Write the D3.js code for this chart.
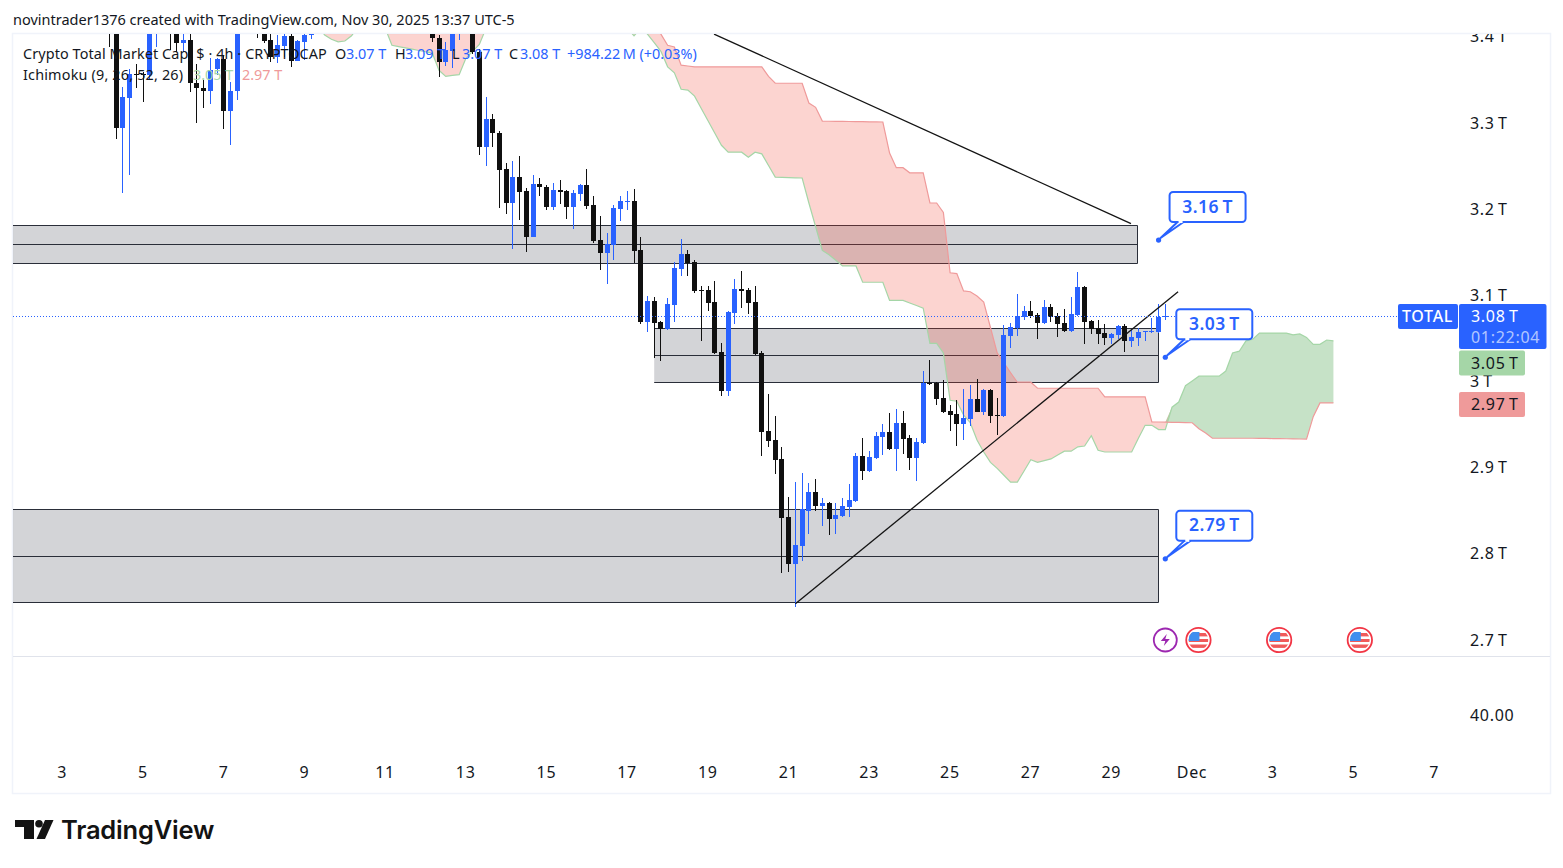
<!DOCTYPE html>
<html><head><meta charset="utf-8">
<script src="https://cdn.jsdelivr.net/npm/d3@7/dist/d3.min.js"></script>
<style>html,body{margin:0;padding:0;background:#fff;overflow:hidden}svg{display:block}text{font-family:"Noto Sans",sans-serif}</style>
</head><body><svg id="c" width="1563" height="868"></svg>
<script>
// ---------- DATA: 4h candles, first bar is Nov 4 2025 04:00 (prices in $ trillions); null = bar above the visible range
const opens=[3.44,3.43,3.293,3.328,3.356,3.356,3.355,3.42,null,3.44,
3.43,3.392,3.395,3.345,3.340,3.336,3.361,3.373,3.313,3.336,
null,null,3.44,3.42,3.395,3.375,3.388,3.400,3.371,3.393,3.401,
null,null,null,null,null,null,null,null,null,null,null,null,null,null,null,null,null,
3.42,3.397,3.370,3.382,3.42,null,3.43,3.381,3.271,3.303,
3.287,3.245,3.206,3.236,3.220,3.167,3.228,3.225,3.201,3.221,
3.220,3.201,3.216,3.227,3.204,3.163,3.148,3.157,3.199,3.207,
3.208,3.151,3.068,3.092,3.068,3.060,3.088,3.129,3.147,3.137,
3.105,3.105,3.091,3.033,2.988,3.078,3.106,3.105,3.091,3.032,
2.941,2.931,2.909,2.842,2.787,2.808,2.849,2.871,2.854,2.858,
2.839,2.843,2.853,2.860,2.912,2.895,2.910,2.935,2.940,2.921,
2.951,2.933,2.910,2.927,2.997,2.997,2.980,2.965,2.961,2.949,
2.955,2.978,2.964,2.989,2.960,2.959,3.052,3.061,3.074,3.081,
3.076,3.067,3.085,3.075,3.067,3.057,3.076,3.109,3.069,3.061,
3.055,3.049,3.053,3.063,3.046,3.049,3.056,3.056,3.056,3.074];
const highs=[3.45,3.44,3.341,3.362,3.367,3.358,3.43,3.45,null,3.45,
3.44,3.41,3.41,3.367,3.349,3.374,3.374,3.378,3.346,3.43,
null,null,3.45,3.43,3.41,3.401,3.41,3.41,3.395,3.41,3.42,
null,null,null,null,null,null,null,null,null,null,null,null,null,null,null,null,null,
3.43,3.401,3.393,3.43,3.45,null,3.44,3.385,3.329,3.309,
3.289,3.252,3.255,3.261,3.223,3.238,3.235,3.227,3.229,3.233,
3.221,3.221,3.228,3.245,3.214,3.191,3.171,3.204,3.214,3.220,
3.222,3.167,3.098,3.097,3.069,3.096,3.137,3.164,3.151,3.140,
3.110,3.110,3.115,3.043,3.081,3.118,3.127,3.107,3.110,3.034,
2.984,2.959,2.923,2.865,2.882,2.893,2.881,2.886,2.864,2.859,
2.858,2.864,2.880,2.916,2.933,2.918,2.940,2.949,2.962,2.967,
2.965,2.937,2.933,3.011,3.024,2.998,3.001,2.972,2.977,2.990,
2.995,3.002,2.990,2.990,2.980,3.064,3.067,3.100,3.086,3.092,
3.078,3.093,3.089,3.078,3.083,3.097,3.126,3.110,3.070,3.070,
3.066,3.055,3.064,3.066,3.059,3.061,3.058,3.072,3.089,3.089];
const lows=[3.387,3.280,3.218,3.238,3.339,3.323,3.350,3.387,null,3.384,
3.381,3.381,3.335,3.299,3.316,3.321,3.355,3.292,3.273,3.326,
null,null,3.397,3.392,3.370,3.368,3.375,3.364,3.371,3.372,3.396,
null,null,null,null,null,null,null,null,null,null,null,null,null,null,null,null,null,
3.393,3.352,3.365,3.363,3.395,null,3.379,3.262,3.249,3.271,
3.200,3.193,3.153,3.186,3.149,3.166,3.214,3.198,3.198,3.205,
3.187,3.176,3.208,3.199,3.160,3.128,3.112,3.140,3.185,3.198,
3.136,3.066,3.056,3.026,3.023,3.059,3.068,3.121,3.121,3.102,
3.046,3.081,3.031,2.982,2.982,3.066,3.084,3.077,3.030,2.912,
2.923,2.891,2.777,2.778,2.737,2.791,2.822,2.848,2.831,2.821,
2.822,2.842,2.842,2.859,2.885,2.894,2.909,2.914,2.919,2.895,
2.915,2.896,2.883,2.926,2.995,2.972,2.962,2.941,2.924,2.931,
2.947,2.963,2.960,2.951,2.937,2.958,3.038,3.052,3.070,3.072,
3.048,3.066,3.068,3.050,3.056,3.056,3.075,3.042,3.054,3.042,
3.041,3.042,3.048,3.033,3.039,3.040,3.046,3.055,3.055,3.070];
const closes=[3.42,3.293,3.329,3.356,3.354,3.355,3.42,3.44,null,3.42,
3.392,3.395,3.345,3.339,3.336,3.360,3.373,3.313,3.336,3.42,
null,null,3.42,3.394,3.375,3.389,3.400,3.371,3.394,3.401,3.41,
null,null,null,null,null,null,null,null,null,null,null,null,null,null,null,null,null,
3.397,3.370,3.384,3.42,3.44,null,3.381,3.271,3.303,3.287,
3.244,3.206,3.236,3.219,3.167,3.228,3.224,3.201,3.221,3.219,
3.201,3.218,3.227,3.203,3.162,3.148,3.158,3.200,3.208,3.208,
3.150,3.068,3.092,3.067,3.060,3.089,3.131,3.147,3.136,3.104,
3.104,3.090,3.032,2.988,3.079,3.106,3.104,3.090,3.031,2.940,
2.930,2.908,2.840,2.787,2.809,2.851,2.871,2.854,2.858,2.839,
2.844,2.854,2.861,2.912,2.895,2.911,2.936,2.940,2.921,2.951,
2.932,2.910,2.929,2.997,2.996,2.978,2.963,2.960,2.949,2.956,
2.978,2.964,2.989,2.959,2.959,3.053,3.062,3.075,3.081,3.075,
3.067,3.085,3.074,3.066,3.057,3.077,3.109,3.068,3.060,3.054,
3.049,3.054,3.063,3.046,3.050,3.056,3.057,3.057,3.074,3.075];

const spanABars=[30,31,32,33,34,35,36,37,39,40,41,43,47,48,49,51,52,54,55,60,75,76,77,78,79,81,82,83,84,85,86,90,91,93,94,95,96,98,102,103,105,106,108,110,111,114,115,117,120,121,122,123,124,125,126,127,128,129,130,131,133,134,136,137,139,141,142,143,144,145,146,147,151,152,153,154,155,156,157,158,159,161,164,165,166,167,168,169,170,174,175,176,177,178,179,180,181];
const spanAValues=[3.411,3.401,3.396,3.393,3.394,3.400,3.411,3.43,3.43,3.409,3.389,3.386,3.380,3.360,3.353,3.355,3.374,3.390,3.409,3.43,3.43,3.409,3.400,3.409,3.402,3.382,3.364,3.357,3.338,3.337,3.330,3.273,3.265,3.265,3.259,3.265,3.263,3.236,3.235,3.206,3.151,3.146,3.133,3.133,3.114,3.114,3.093,3.093,3.084,3.043,3.043,3.032,2.977,2.976,2.960,2.951,2.931,2.917,2.905,2.898,2.882,2.882,2.908,2.905,2.909,2.918,2.918,2.923,2.924,2.936,2.919,2.917,2.917,2.933,2.948,2.948,2.943,2.943,2.969,2.975,2.994,3.005,3.005,3.011,3.032,3.034,3.046,3.048,3.055,3.055,3.053,3.054,3.050,3.042,3.042,3.047,3.046];
const spanBBars=[30,79,81,82,83,84,86,96,97,98,102,103,104,105,114,115,116,117,118,120,121,122,123,124,125,126,127,128,129,131,133,134,136,137,146,147,153,154,160,161,162,163,169,177,178,179,181];
const spanBValues=[3.45,3.44,3.402,3.389,3.387,3.366,3.364,3.364,3.353,3.345,3.345,3.322,3.317,3.301,3.300,3.264,3.247,3.247,3.241,3.241,3.206,3.206,3.195,3.125,3.124,3.104,3.103,3.098,3.091,3.032,3.009,2.998,2.998,2.991,2.991,2.981,2.981,2.952,2.951,2.944,2.939,2.933,2.933,2.932,2.958,2.974,2.974];

const zoneBars=[[-60,152],[80,155],[-60,155]];
const zoneTop=[3.180,3.061,2.851], zoneMid=[3.158,3.030,2.796], zoneBottom=[3.136,2.998,2.743];
const trendBars=[[88.9,150.9],[101,157.9]], trendPrices=[[3.402,3.182],[2.741,3.103]];
const calloutBars=[155,156,156], calloutPrices=[3.163,3.027,2.793], calloutLabels=["3.16\u2009T","3.03\u2009T","2.79\u2009T"];
const priceTicks=[3.4,3.3,3.2,3.1,3.0,2.9,2.8,2.7], priceTickLabels=["3.4\u2009T","3.3\u2009T","3.2\u2009T","3.1\u2009T","3\u2009T","2.9\u2009T","2.8\u2009T","2.7\u2009T"];
const timeTickDays=[3,5,7,9,11,13,15,17,19,21,23,25,27,29,31,33,35,37], timeTickLabels=["3","5","7","9","11","13","15","17","19","21","23","25","27","29","Dec","3","5","7"];
const lastPrice=3.075, eventBars=[161,173,185], speechBar=156;

// ---------- SCALES
const svg=d3.select("#c");
const t0=Date.UTC(2025,10,3);
const day=864e5;
const x=d3.scaleUtc().domain([new Date(t0),new Date(t0+34*day)]).range([62.4,62.4+34*40.35]);
const y=d3.scaleLinear().domain([2.7,3.3]).range([639,122]);
const barDate=i=>new Date(Date.UTC(2025,10,4,8)+i*4*36e5);
const bx=i=>x(barDate(i));
const BLUE="#2962FF",INK="#131722",BLACK="#101010";
const AXF=16, AXLS=0.7;

const defs=svg.append("defs");
defs.append("clipPath").attr("id","pane").append("rect").attr("x",13).attr("y",34).attr("width",1537).attr("height",622);
defs.append("clipPath").attr("id","axisclip").append("rect").attr("x",1455).attr("y",34).attr("width",95).attr("height",622);

// frame
svg.append("rect").attr("x",12.5).attr("y",33.5).attr("width",1538).attr("height",760).attr("fill","none").attr("stroke","#F0F3FA").attr("stroke-width",1.5);
svg.append("line").attr("x1",13).attr("x2",1550).attr("y1",656.5).attr("y2",656.5).attr("stroke","#E0E3EB");

svg.append("text").attr("x",13).attr("y",24.5).attr("font-size",14.5).attr("fill",INK).text("novintrader1376 created with TradingView.com, Nov 30, 2025 13:37 UTC-5");

const pane=svg.append("g").attr("clip-path","url(#pane)");

// zones
zoneTop.forEach((p,i)=>{
  const x0=bx(zoneBars[i][0]),x1=Math.round(bx(zoneBars[i][1]))-.5;
  const yt=Math.round(y(p))+.5,yb=Math.round(y(zoneBottom[i]))+.5,ym=Math.round(y(zoneMid[i]))+.5;
  pane.append("rect").attr("x",x0).attr("y",yt).attr("width",x1-x0).attr("height",yb-yt).attr("fill","rgba(120,123,134,.33)");
  pane.append("path").attr("d",`M${x0},${yt}H${x1}V${yb}H${x0}`).attr("fill","none").attr("stroke","#2A2E39").attr("stroke-width",1);
  pane.append("line").attr("x1",x0).attr("x2",x1).attr("y1",ym).attr("y2",ym).attr("stroke","#2A2E39").attr("stroke-width",1);
});

// ichimoku cloud
const spanA=d3.scaleLinear().domain(spanABars).range(spanAValues);
const spanB=d3.scaleLinear().domain(spanBBars).range(spanBValues);
const cloudBars=d3.range(30,181.01,1);
const cx=d=>bx(d);
pane.append("path").datum(cloudBars).attr("fill","rgba(244,67,54,.23)")
  .attr("d",d3.area().x(cx).y0(d=>y(spanA(d))).y1(d=>y(Math.max(spanA(d),spanB(d)))));
pane.append("path").datum(cloudBars).attr("fill","rgba(67,160,71,.3)")
  .attr("d",d3.area().x(cx).y0(d=>y(spanB(d))).y1(d=>y(Math.max(spanA(d),spanB(d)))));
pane.append("path").datum(cloudBars).attr("fill","none").attr("stroke","#A5D6A7").attr("stroke-width",1.2)
  .attr("d",d3.line().x(cx).y(d=>y(spanA(d))));
pane.append("path").datum(cloudBars).attr("fill","none").attr("stroke","#EF9A9A").attr("stroke-width",1.2)
  .attr("d",d3.line().x(cx).y(d=>y(spanB(d))));

// last price line
svg.append("line").attr("x1",13).attr("x2",1398).attr("y1",Math.round(y(lastPrice))+.5).attr("y2",Math.round(y(lastPrice))+.5)
  .attr("stroke",BLUE).attr("stroke-width",1).attr("stroke-dasharray","1 2");

// candles
const bars=opens.map((o,k)=>({i:k-1,o,h:highs[k],l:lows[k],c:closes[k]})).filter(d=>d.o!==null);
const cg=pane.append("g").selectAll("g").data(bars).join("g")
  .attr("fill",d=>d.c>=d.o?BLUE:BLACK);
cg.append("rect").attr("x",d=>Math.floor(bx(d.i))).attr("width",1)
  .attr("y",d=>Math.round(y(d.h))).attr("height",d=>Math.max(1,Math.round(y(d.l))-Math.round(y(d.h))));
cg.append("rect").attr("x",d=>Math.floor(bx(d.i))-2).attr("width",5)
  .attr("y",d=>Math.round(y(Math.max(d.o,d.c)))).attr("height",d=>Math.max(1,Math.round(y(Math.min(d.o,d.c)))-Math.round(y(Math.max(d.o,d.c)))));

// trend lines
trendBars.forEach((b,i)=>{
  pane.append("line").attr("x1",bx(b[0])).attr("x2",bx(b[1])).attr("y1",y(trendPrices[i][0])).attr("y2",y(trendPrices[i][1]))
    .attr("stroke","#131313").attr("stroke-width",1.3);
});

// callouts
calloutPrices.forEach((p,i)=>{
  const px=bx(calloutBars[i]),py=y(p),dx=px+11,dy=py-48;
  const g=svg.append("g");
  g.append("path").attr("d",`M${px+2},${py-2}L${dx+8},${dy+30}H${dx+14}Z`).attr("fill","#fff").attr("stroke",BLUE).attr("stroke-width",2).attr("stroke-linejoin","round");
  g.append("rect").attr("x",dx).attr("y",dy).attr("width",76).attr("height",30).attr("rx",3.5).attr("fill","#fff").attr("stroke",BLUE).attr("stroke-width",2);
  g.append("rect").attr("x",dx+9).attr("y",dy+28).attr("width",4).attr("height",3).attr("fill","#fff");
  g.append("circle").attr("cx",px).attr("cy",py).attr("r",2.6).attr("fill",BLUE);
  g.append("text").attr("x",dx+38).attr("y",dy+20.5).attr("text-anchor","middle").attr("font-size",17.5).attr("font-weight",600).attr("letter-spacing",0.5).attr("fill",BLUE).text(calloutLabels[i]);
});

// legend
const lg=svg.append("g").attr("font-size",14.4);
const tx=(xx,yy,s,f,ls)=>lg.append("text").attr("x",xx).attr("y",yy).attr("fill",f).attr("letter-spacing",ls||0).text(s);
tx(23,59,"Crypto Total Market Cap, $ · 4h · CRYPTOCAP",INK,0.1);
tx(335,59,"O",INK);tx(346,59,"3.07 T",BLUE);
tx(395,59,"H",INK);tx(405,59,"3.09 T",BLUE);
tx(452,59,"L",INK);tx(462,59,"3.07 T",BLUE);
tx(509,59,"C",INK);tx(520,59,"3.08 T",BLUE);
tx(567,59,"+984.22\u2009M (+0.03%)",BLUE);
tx(23,80,"Ichimoku (9, 26, 52, 26)",INK,0.18);
tx(193,80,"3.05 T","#A5D6A7");tx(242,80,"2.97 T","#EF9A9A");

// price axis
const yAxis=d3.axisRight(y).tickValues(priceTicks).tickSize(0).tickPadding(0).tickFormat((d,i)=>priceTickLabels[i]);
const ya=svg.append("g").attr("clip-path","url(#axisclip)").append("g").attr("transform","translate(1470,1)").call(yAxis);
ya.select(".domain").remove();
ya.selectAll("text").attr("font-size",AXF).attr("letter-spacing",AXLS).attr("fill",INK).style("font-family",'"Noto Sans",sans-serif');
svg.append("text").attr("x",1470).attr("y",720.5).attr("font-size",AXF).attr("letter-spacing",AXLS).attr("fill",INK).text("40.00");

// time axis
const xAxis=d3.axisBottom(x).tickValues(timeTickDays.map(d=>new Date(t0+(d-3)*day))).tickSize(0).tickPadding(0).tickFormat((d,i)=>timeTickLabels[i]);
const xa=svg.append("g").attr("transform","translate(-0.7,767)").call(xAxis);
xa.select(".domain").remove();
xa.selectAll("text").attr("font-size",AXF).attr("letter-spacing",AXLS).attr("fill",INK).style("font-family",'"Noto Sans",sans-serif');

// price tags
const yL=Math.round(y(lastPrice));
svg.append("rect").attr("x",1398).attr("y",yL-12).attr("width",60).attr("height",25).attr("rx",2).attr("fill",BLUE);
svg.append("text").attr("x",1427.5).attr("y",yL+6).attr("text-anchor","middle").attr("font-size",AXF).attr("letter-spacing",AXLS).attr("font-weight",500).attr("fill","#fff").text("TOTAL");
svg.append("rect").attr("x",1459).attr("y",yL-12).attr("width",87.5).attr("height",45).attr("rx",2).attr("fill",BLUE);
svg.append("text").attr("x",1471).attr("y",yL+6).attr("font-size",AXF).attr("letter-spacing",AXLS).attr("fill","#fff").text("3.08\u2009T");
svg.append("text").attr("x",1471).attr("y",yL+27).attr("font-size",AXF).attr("letter-spacing",AXLS).attr("fill","rgba(255,255,255,.65)").text("01:22:04");
[["#A5D6A7","3.05\u2009T",363],["#EF9A9A","2.97\u2009T",404.5]].forEach(r=>{
  svg.append("rect").attr("x",1459).attr("y",r[2]-12.5).attr("width",66).attr("height",25).attr("rx",2).attr("fill",r[0]);
  svg.append("text").attr("x",1471).attr("y",r[2]+5.5).attr("font-size",AXF).attr("letter-spacing",AXLS).attr("fill",INK).text(r[1]);
});

// event icons
const ev=svg.append("g");
const sp=ev.append("g").attr("transform",`translate(${bx(speechBar)},640)`);
sp.append("circle").attr("r",11.5).attr("fill","#fff").attr("stroke","#9C27B0").attr("stroke-width",1.8);
sp.append("path").attr("d","M1.5,-6L-4.5,1H0L-1.5,6L4.5,-1H0Z").attr("fill","#9C27B0");
eventBars.forEach(b=>{
  const g=ev.append("g").attr("transform",`translate(${bx(b)-0.5},640)`);
  g.append("circle").attr("r",12.2).attr("fill","#fff").attr("stroke","#F23645").attr("stroke-width",1.8);
  const cid="fl"+b;
  svg.select("defs").append("clipPath").attr("id",cid).append("circle").attr("r",10);
  const f=g.append("g").attr("clip-path",`url(#${cid})`);
  f.append("rect").attr("x",-10).attr("y",-7).attr("width",20).attr("height",3.4).attr("fill","#F05A5A");
  f.append("rect").attr("x",-10).attr("y",-1).attr("width",20).attr("height",3).attr("fill","#F05A5A");
  f.append("rect").attr("x",-10).attr("y",4.5).attr("width",20).attr("height",3.4).attr("fill","#F05A5A");
  f.append("rect").attr("x",-10).attr("y",-8).attr("width",11).attr("height",9).attr("fill","#3F8FEF");
});

// logo
const lo=svg.append("g").attr("fill","#131313");
lo.append("path").attr("d","M15,820H34V839H24V827H15Z");
lo.append("circle").attr("cx",39).attr("cy",823.8).attr("r",3.8);
lo.append("path").attr("d","M45,820H53.5L45,839H36.5Z");
svg.append("text").attr("x",61).attr("y",839).attr("font-size",25.5).attr("font-weight",600).attr("fill","#131313").style("font-family","Inter,sans-serif").attr("letter-spacing",-0.2).text("TradingView");
</script></body></html>
